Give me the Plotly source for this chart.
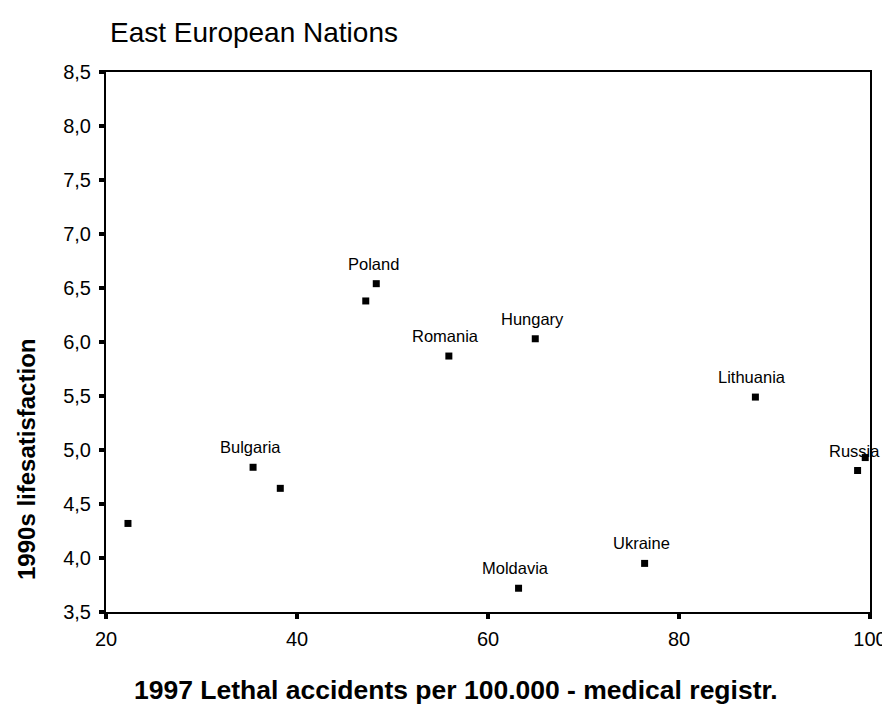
import plotly.graph_objects as go

accidents = [22.3, 35.4, 38.25, 47.2, 48.3, 55.9, 63.2, 64.95, 76.4, 88.0, 98.7, 99.5]
satisfaction = [4.32, 4.84, 4.645, 6.38, 6.54, 5.87, 3.72, 6.03, 3.95, 5.49, 4.81, 4.93]
labels = ["", "Bulgaria", "", "", "Poland", "Romania", "Moldavia", "Hungary", "Ukraine", "Lithuania", "Russia", ""]

x_ticks = [20, 40, 60, 80, 100]
y_ticks = [3.5, 4.0, 4.5, 5.0, 5.5, 6.0, 6.5, 7.0, 7.5, 8.0, 8.5]

FONT = "Liberation Sans, Arial, sans-serif"

fig = go.Figure()
fig.add_trace(go.Scatter(
    x=accidents, y=satisfaction, mode="markers",
    marker=dict(symbol="square", size=7, color="black"),
    cliponaxis=False, showlegend=False, hoverinfo="skip"))

for xv, yv, lab in zip(accidents, satisfaction, labels):
    if lab:
        fig.add_annotation(x=xv, y=yv, text=lab, showarrow=False,
                           xanchor="center", yanchor="middle",
                           xshift=-3, yshift=20,
                           font=dict(family=FONT, size=16.5, color="black"))

fig.add_annotation(xref="paper", yref="paper", x=0, y=1.0, xshift=2, yshift=40,
                   text="East European Nations", showarrow=False,
                   xanchor="left", yanchor="middle",
                   font=dict(family=FONT, size=28, color="black"))
fig.add_annotation(xref="paper", yref="paper", x=0.5, y=0, xshift=-32, yshift=-78,
                   text="<b>1997 Lethal accidents per 100.000 - medical registr.</b>",
                   showarrow=False, xanchor="center", yanchor="middle",
                   font=dict(family=FONT, size=26.5, color="black"))
fig.add_annotation(xref="paper", yref="paper", x=0, y=0.5, xshift=-80, yshift=-118,
                   text="<b>1990s lifesatisfaction</b>", textangle=-90,
                   showarrow=False, xanchor="center", yanchor="middle",
                   font=dict(family=FONT, size=24, color="black"))

axis_common = dict(showgrid=False, zeroline=False, showline=True, linecolor="black",
                   linewidth=2, mirror=True, ticks="outside", ticklen=5, tickwidth=4,
                   tickcolor="black", tickfont=dict(family=FONT, size=20, color="black"))

fig.update_xaxes(range=[20, 100], tickvals=x_ticks, ticktext=[str(v) for v in x_ticks],
                 ticklabelstandoff=3, **axis_common)
fig.update_yaxes(range=[3.5, 8.5], tickvals=y_ticks, tickformat=".1f",
                 ticklabelstandoff=4, **axis_common)

fig.update_layout(width=890, height=721, separators=",.",
                  margin=dict(l=98, r=28, t=64, b=117),
                  plot_bgcolor="white", paper_bgcolor="white",
                  font=dict(family=FONT, color="black"))

fig.write_html("out.html")
